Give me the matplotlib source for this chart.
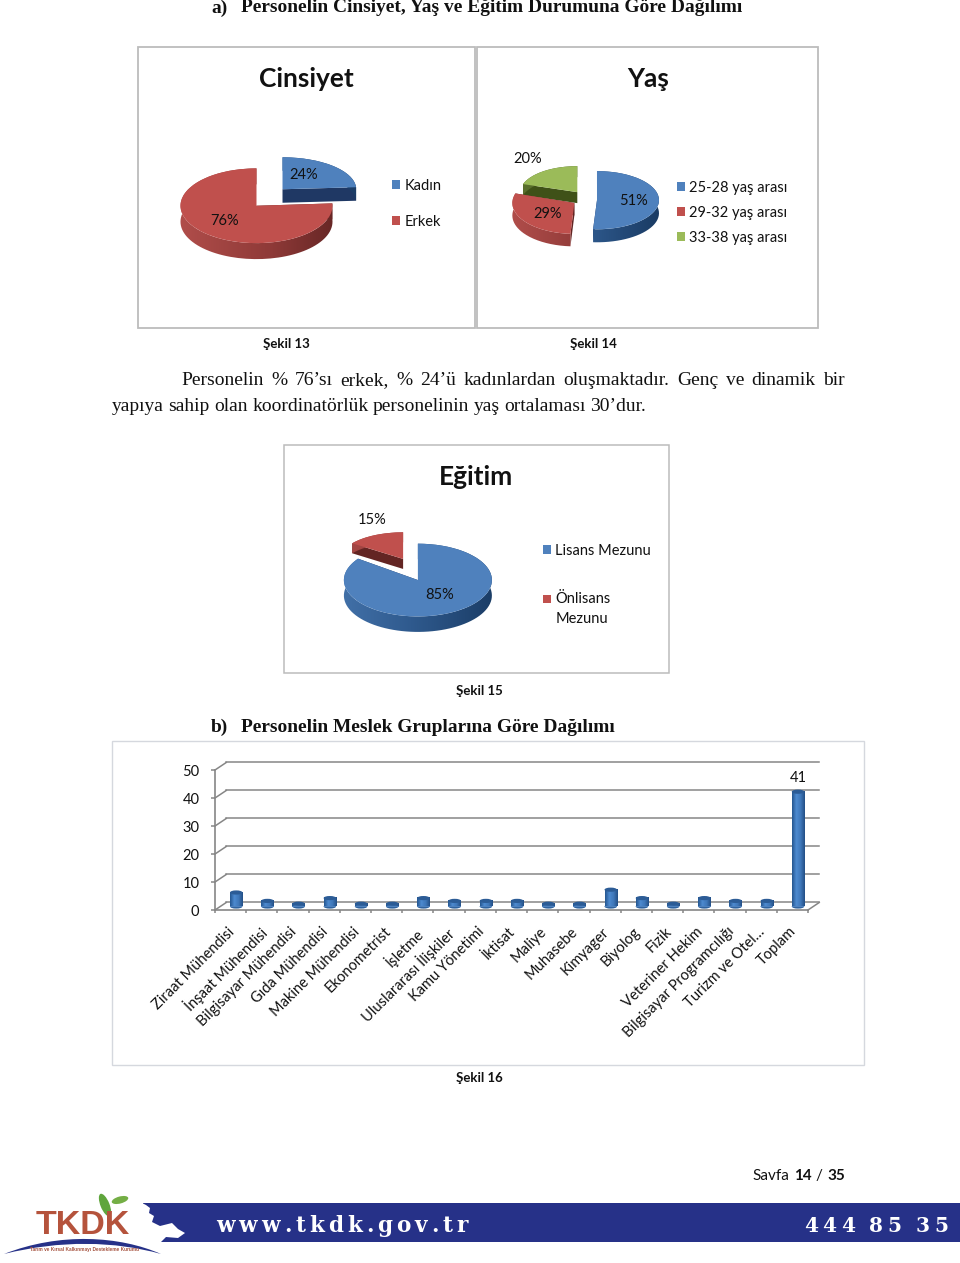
import numpy as np
import matplotlib
matplotlib.use("Agg")
import matplotlib.pyplot as plt
from matplotlib.colors import LinearSegmentedColormap
from matplotlib.patches import Ellipse, Polygon, Rectangle, PathPatch
from matplotlib.path import Path
from matplotlib.transforms import Affine2D

# Pie data
gender_labels = ["Kadın", "Erkek"]
gender_values = [24, 76]
age_labels = ["25-28 yaş arası", "29-32 yaş arası", "33-38 yaş arası"]
age_values = [51, 29, 20]
education_labels = ["Lisans Mezunu", "Önlisans\nMezunu"]
education_values = [85, 15]

# Bar data
job_labels = [
    "Ziraat Mühendisi", "İnşaat Mühendisi", "Bilgisayar Mühendisi", "Gıda Mühendisi",
    "Makine Mühendisi", "Ekonometrist", "İşletme", "Uluslararası İlişkiler", "Kamu Yönetimi",
    "İktisat", "Maliye", "Muhasebe", "Kimyager", "Biyolog", "Fizik", "Veteriner Hekim",
    "Bilgisayar Programcılığı", "Turizm ve Otel…", "Toplam",
]
job_values = [5, 2, 1, 3, 1, 1, 3, 2, 2, 2, 1, 1, 6, 3, 1, 3, 2, 2, 41]
y_ticks = [0, 10, 20, 30, 40, 50]

W, H = 960, 1263
CHART_FONT = ["Lato", "DejaVu Sans"]
SERIF_FONT = ["Liberation Serif", "DejaVu Serif"]
TOP_COLORS = ["#4f81bd", "#c0504d", "#9bbb59"]
CUT_COLORS = ["#1f3864", "#632523", "#3f5118"]
SIDE_CMAPS = [
    LinearSegmentedColormap.from_list("blue_side", ["#4a7ab3", "#2f5a8e", "#17375e"]),
    LinearSegmentedColormap.from_list("red_side", ["#b5504d", "#8f3a38", "#4f1b1a"]),
    LinearSegmentedColormap.from_list("green_side", ["#5f7530", "#4d6127", "#3a4a1c"]),
]
FRAME_COLOR = "#bcbcbc"
AXIS_COLOR = "#868686"
TEXT_COLOR = "#111111"
BANNER_COLOR = "#263188"


def pixel_axes(fig, x0, y0, x1, y1):
    # Axes placed by a box given in page pixels (y going down)
    return fig.add_axes([x0 / W, 1 - y1 / H, (x1 - x0) / W, (y1 - y0) / H])


def draw_slice_sides(ax, wedge, depth, color_idx, z, sx, sy, shift):
    # Extruded wall and radial cut faces under one pie slice
    cx, cy = wedge.center
    cy = cy - shift
    t = np.radians(np.linspace(wedge.theta1, wedge.theta2, 90))
    px, py = cx + sx * wedge.r * np.cos(t), cy + sy * wedge.r * np.sin(t)

    for i in (0, -1):
        face = [(cx, cy), (px[i], py[i]), (px[i], py[i] - depth), (cx, cy - depth)]
        ax.add_patch(Polygon(face, closed=True, facecolor=CUT_COLORS[color_idx], edgecolor="none", zorder=z))

    band = np.vstack([np.column_stack([px, py]), np.column_stack([px, py - depth])[::-1]])
    shade = np.linspace(0, 1, 256).reshape(1, -1)
    im = ax.imshow(shade, extent=(-1.35, 1.35, -2.5, 2.5), aspect="auto",
                   cmap=SIDE_CMAPS[color_idx], zorder=z + 0.1)
    im.set_clip_path(Path(band), ax.transData)


def draw_pie(fig, page, values, labels, hub, rx, ry, explode, slice_fit, label_xy, legend_xy, legend_gap):
    # Tilted pie: a flat pie in squashed axes, then walls below each slice
    # slice_fit per slice: x scale, y scale, shift down in px, wall depth in px (the tilt's perspective)
    ax = pixel_axes(fig, hub[0] - 2 * rx, hub[1] - 2 * ry, hub[0] + 2 * rx, hub[1] + 2 * ry)
    wedges, _, autotexts = ax.pie(
        values, explode=[explode] * len(values), colors=TOP_COLORS[:len(values)],
        startangle=90, counterclock=False, autopct="%.0f%%", radius=1,
    )
    ax.set_aspect("auto")
    ax.patch.set_visible(False)

    # Back slices get painted first
    order = sorted(range(len(wedges)), key=lambda i: -wedges[i].center[1])
    for rank, i in enumerate(order):
        z = 2 + rank * 2
        sx, sy, shift_px, depth_px = slice_fit[i]
        cx, cy = wedges[i].center
        draw_slice_sides(ax, wedges[i], depth_px / ry, i, z, sx, sy, shift_px / ry)
        fit = Affine2D().translate(-cx, -cy).scale(sx, sy).translate(cx, cy - shift_px / ry)
        wedges[i].set_transform(fit + ax.transData)
        wedges[i].set_zorder(z + 0.5)
        wedges[i].set_edgecolor("none")
    ax.set_xlim(-2, 2)
    ax.set_ylim(-2, 2)
    ax.axis("off")

    # Percent labels stay real pie labels, moved to where they sit on the page
    for text, xy in zip(autotexts, label_xy):
        text.set_transform(page.transData)
        text.set_position(xy)
        text.set_ha("center")
        text.set_va("center")
        text.set(fontsize=10.5, family=CHART_FONT, color=TEXT_COLOR, zorder=40, clip_on=False)

    leg = ax.legend(
        wedges, labels, loc="upper left", bbox_to_anchor=(legend_xy[0] / W, 1 - legend_xy[1] / H),
        bbox_transform=fig.transFigure, frameon=False, borderpad=0, borderaxespad=0,
        handlelength=0.55, handleheight=0.55, handletextpad=0.3, labelspacing=legend_gap,
        prop={"family": CHART_FONT, "size": 10.5}, labelcolor=TEXT_COLOR,
    )
    leg.set_zorder(40)

    # Two-line entries keep their key next to the first line
    for text, handle in zip(leg.get_texts(), leg.legend_handles):
        if "\n" in text.get_text():
            text.set_linespacing(1.55)
            handle.set_y(handle.get_y() + 7.2)


def draw_bar_chart(fig):
    # Pseudo-3D column chart: a value axis box plus a shifted back wall
    ax = pixel_axes(fig, 215, 770, 808, 910)
    ax.patch.set_visible(False)
    n = len(job_values)
    wall_x, wall_y = 0.36, 2.68
    bar_x, bar_y = 0.18, 1.25
    bar_w = 0.4
    cap_h = 1.5

    # Wall lines
    for t in y_ticks:
        ax.plot([0, wall_x], [t, t + wall_y], color=AXIS_COLOR, lw=1.1, clip_on=False, zorder=1)
        ax.plot([wall_x, n + wall_x], [t + wall_y] * 2, color=AXIS_COLOR, lw=1.1, clip_on=False, zorder=1)
    ax.plot([n, n + wall_x], [0, wall_y], color=AXIS_COLOR, lw=1.1, clip_on=False, zorder=1)

    # Columns with a sideways shine and elliptical ends
    shine = LinearSegmentedColormap.from_list("bar_shine", ["#24568f", "#4d8ad0", "#3f78ba", "#234f85"])
    centers = np.arange(n) + 0.5 + bar_x
    bars = ax.bar(centers, job_values, width=bar_w, bottom=bar_y, color="#4f81bd", zorder=3, clip_on=False)
    for bar in bars:
        x0, x1 = bar.get_x(), bar.get_x() + bar.get_width()
        y0, y1 = bar.get_y(), bar.get_y() + bar.get_height()
        ax.imshow(np.linspace(0, 1, 64).reshape(1, -1), extent=(x0, x1, y0, y1),
                  aspect="auto", cmap=shine, zorder=3.1, clip_on=False)
        ax.add_patch(Ellipse(((x0 + x1) / 2, y0), bar_w, cap_h, facecolor="#2f639f", edgecolor="none", zorder=2.9, clip_on=False))
        ax.add_patch(Ellipse(((x0 + x1) / 2, y1), bar_w, cap_h, facecolor="#2c5c96", edgecolor="none", zorder=3.2, clip_on=False))

    ax.set_xlim(0, n)
    ax.set_ylim(0, 50)

    # Axes
    for side in ("top", "right"):
        ax.spines[side].set_visible(False)
    for side in ("left", "bottom"):
        ax.spines[side].set_color(AXIS_COLOR)
        ax.spines[side].set_linewidth(1.2)
    ax.set_yticks(y_ticks)
    ax.tick_params(axis="y", length=3.2, width=1.1, color=AXIS_COLOR, pad=8, labelsize=10.5, labelcolor=TEXT_COLOR)
    ax.set_xticks(range(n + 1))
    ax.set_xticklabels([])
    ax.tick_params(axis="x", length=2, width=1.1, color=AXIS_COLOR)
    for tick in ax.get_yticklabels():
        tick.set_family(CHART_FONT)

    for i, label in enumerate(job_labels):
        ax.text(i + 0.4, -5.2, label, rotation=45, rotation_mode="anchor", ha="right", va="top",
                fontsize=10.5, family=CHART_FONT, color=TEXT_COLOR)

    # Only the total carries a value label
    ax.text(centers[-1], job_values[-1] + 6.2, str(job_values[-1]), ha="center", va="center",
            fontsize=10.5, family=CHART_FONT, color=TEXT_COLOR)


def spread_line(fig, page, pieces, x0, x1, y, size, **style):
    # Place the pieces of one line (words or letters) on a baseline with equal gaps so that they fill x0..x1
    renderer = fig.canvas.get_renderer()
    items = [page.text(x0, y, p, fontsize=size, va="baseline", **style) for p in pieces]
    widths = [t.get_window_extent(renderer).width if p != " " else size * 0.4 for t, p in zip(items, pieces)]
    gap = (x1 - x0 - sum(widths)) / (len(pieces) - 1)
    x = x0
    for item, width in zip(items, widths):
        item.set_x(x)
        x += width + gap


def draw_footer(fig, page):
    # Banner and logo at the bottom of the page
    page.add_patch(Rectangle((143, 1203), 817, 39, facecolor=BANNER_COLOR, edgecolor="none"))
    torn = [(140, 1202), (146, 1205), (150, 1208), (149, 1213), (154, 1216), (152, 1222), (160, 1226),
            (172, 1223), (178, 1229), (185, 1233), (178, 1238), (166, 1237), (160, 1243), (140, 1243)]
    page.add_patch(Polygon(torn, closed=True, facecolor="white", edgecolor="none"))
    page.text(36, 1226, "TKDK", fontsize=24.5, fontweight="bold", family=["Liberation Sans"], color="#b5533c", va="center")
    page.add_patch(Ellipse((105, 1205), 9, 24, angle=-22, facecolor="#5fa53c", edgecolor="none"))
    page.add_patch(Ellipse((120, 1200), 17, 7, angle=-15, facecolor="#74ae45", edgecolor="none"))
    swoosh = Path([(4, 1254), (60, 1232), (120, 1236), (161, 1254), (115, 1241), (60, 1240), (4, 1254)],
                  [Path.MOVETO, Path.CURVE4, Path.CURVE4, Path.CURVE4, Path.CURVE4, Path.CURVE4, Path.CURVE4])
    page.add_patch(PathPatch(swoosh, facecolor=BANNER_COLOR, edgecolor="none"))
    page.text(85, 1250, "Tarım ve Kırsal Kalkınmayı Destekleme Kurumu", fontsize=3.4, fontweight="bold",
              family=["Liberation Sans"], color="#a5523f", ha="center", va="center")
    banner_style = dict(fontweight="bold", family=["DejaVu Serif"], color="white")
    spread_line(fig, page, list("www.tkdk.gov.tr"), 216, 468, 1232, 15.5, **banner_style)
    spread_line(fig, page, list("444 85 35"), 804, 948, 1232, 14.5, **banner_style)


def main():
    fig = plt.figure(figsize=(W / 100, H / 100), dpi=100, facecolor="white")
    page = fig.add_axes([0, 0, 1, 1])
    page.set_xlim(0, W)
    page.set_ylim(H, 0)
    page.axis("off")

    # Chart frames
    for x0, y0, x1, y1, color, lw in [
        (138, 47, 475, 328, FRAME_COLOR, 1.3),
        (477, 47, 818, 328, FRAME_COLOR, 1.3),
        (284, 445, 669, 673, FRAME_COLOR, 1.1),
        (112, 741, 864, 1065, "#d5d8de", 1.0),
    ]:
        page.add_patch(Rectangle((x0, y0), x1 - x0, y1 - y0, fill=False, edgecolor=color, linewidth=lw))

    # Headings and body text
    heading = dict(fontsize=13.95, fontweight="bold", family=SERIF_FONT, color=TEXT_COLOR, va="center")
    page.text(211, 8, "a)", **heading)
    page.text(241, 8, "Personelin Cinsiyet, Yaş ve Eğitim Durumuna Göre Dağılımı", **heading)
    page.text(211, 727, "b)", **heading)
    page.text(241, 727, "Personelin Meslek Gruplarına Göre Dağılımı", **heading)
    body = dict(family=SERIF_FONT, color=TEXT_COLOR)
    spread_line(fig, page, "Personelin % 76’sı erkek, % 24’ü kadınlardan oluşmaktadır. Genç ve dinamik bir".split(),
                181, 845, 384.7, 14, **body)
    spread_line(fig, page, "yapıya sahip olan koordinatörlük personelinin yaş ortalaması 30’dur.".split(),
                112, 646, 410.7, 14, **body)

    # Chart titles and captions
    for x, y, title in [(306, 79, "Cinsiyet"), (648, 79, "Yaş"), (476, 477, "Eğitim")]:
        page.text(x, y, title, fontsize=19, fontweight="bold", family=CHART_FONT, color=TEXT_COLOR, ha="center", va="center")
    for x, y, caption in [(286, 344, "Şekil 13"), (593, 344, "Şekil 14"), (479, 691, "Şekil 15"), (479, 1078, "Şekil 16")]:
        page.text(x, y, caption, fontsize=9.5, fontweight="bold", family=CHART_FONT, color=TEXT_COLOR, ha="center", va="center")

    # Pies
    draw_pie(fig, page, gender_values, gender_labels, (269.5, 196), 76, 37, 0.25,
             [(0.97, 0.865, 0, 13.5), (1.0, 1.01, 3, 16)],
             [(304, 175), (225, 221)], (392, 179), 1.49)
    draw_pie(fig, page, age_values, age_labels, (584.6, 197), 62, 30, 0.2,
             [(1.0, 0.97, 3, 13), (1.0, 1.03, 2.6, 12.5), (0.92, 0.867, 0, 11)],
             [(634, 201), (548, 214), (528, 159)], (677, 181), 0.74)
    draw_pie(fig, page, education_values, education_labels, (410.5, 571), 74, 36, 0.22,
             [(1.0, 1.01, 2, 15.5), (0.85, 0.74, -5, 10)],
             [(440, 595), (372, 520)], (543, 544), 2.3)

    draw_bar_chart(fig)

    # Page number
    page.text(752, 1176, "Savfa", fontsize=11, family=CHART_FONT, color=TEXT_COLOR, va="center")
    page.text(794, 1176, "14", fontsize=11, fontweight="bold", family=CHART_FONT, color=TEXT_COLOR, va="center")
    page.text(815, 1176, "/", fontsize=11, family=CHART_FONT, color=TEXT_COLOR, va="center")
    page.text(827, 1176, "35", fontsize=11, fontweight="bold", family=CHART_FONT, color=TEXT_COLOR, va="center")

    draw_footer(fig, page)

    fig.savefig("out.png", dpi=100)
    plt.close(fig)


main()
